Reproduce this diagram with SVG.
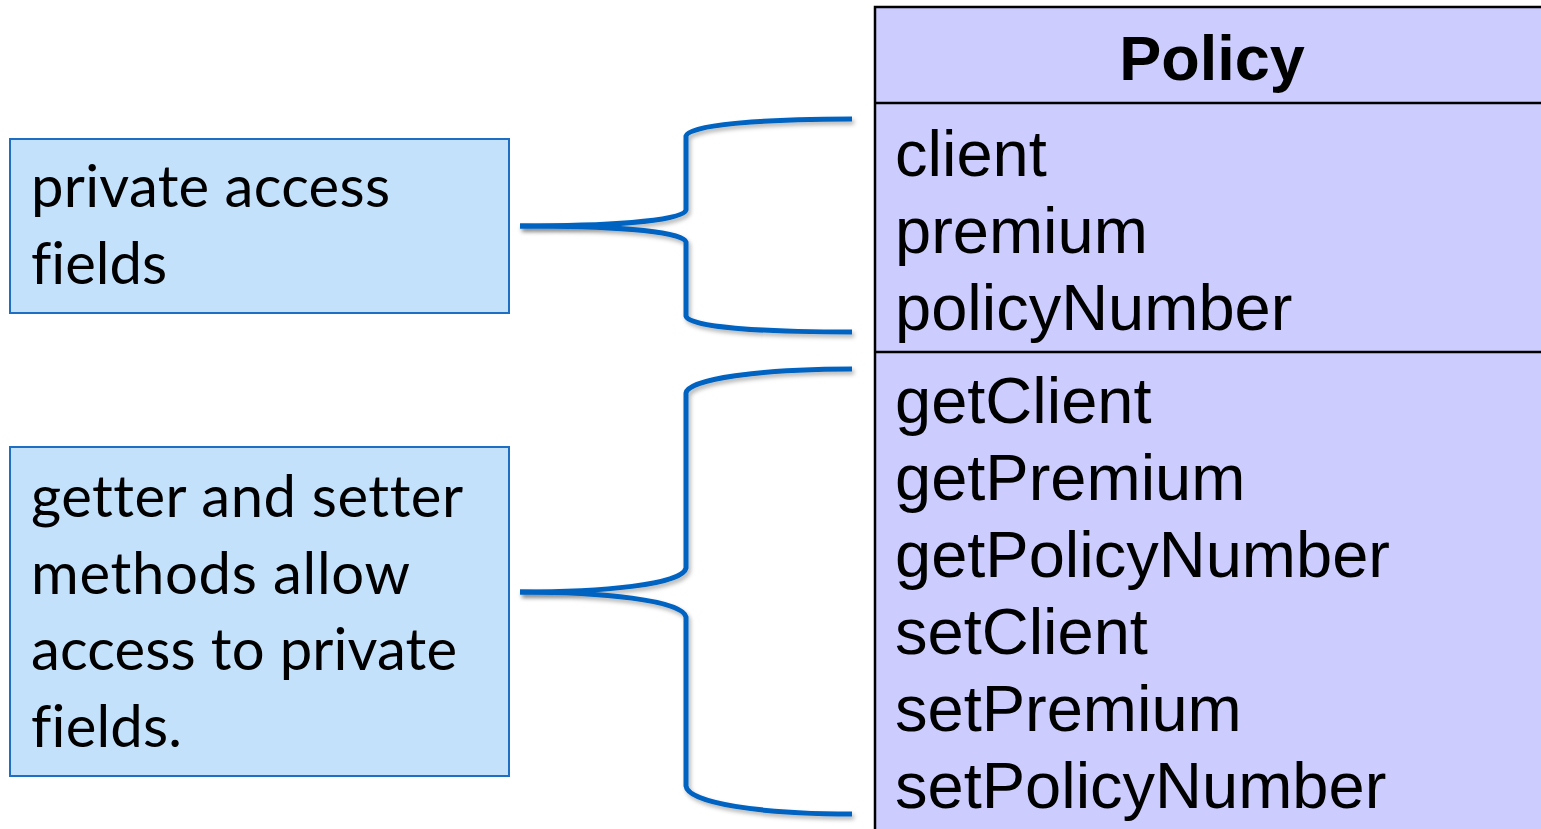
<svg xmlns="http://www.w3.org/2000/svg" width="1541" height="829" viewBox="0 0 1541 829">
  <defs>
    <filter id="shadow" x="-10%" y="-10%" width="120%" height="120%">
      <feDropShadow dx="2" dy="3" stdDeviation="2" flood-color="#000" flood-opacity="0.3"/>
    </filter>
  </defs>
  <style>
    .note rect { fill: #C3E1FB; stroke: #1E6FC4; stroke-width: 2; }
    .note text { font-family: Lato, "Open Sans", sans-serif; font-size: 58px; fill: #000; font-variant-ligatures: none; font-feature-settings: "liga" 0, "clig" 0; }
    .cls rect { fill: #CCCCFF; stroke: #000; stroke-width: 2.5; }
    .cls line { stroke: #000; stroke-width: 2.5; }
    .cls text { font-family: "Liberation Sans", Arial, sans-serif; font-size: 65px; fill: #000; }
    .cls .title { font-weight: bold; font-size: 63px; }
    .brace { fill: none; stroke: #0563C1; stroke-width: 5; stroke-linecap: butt; stroke-linejoin: round; filter: url(#shadow); }
  </style>

  <!-- note: fields -->
  <g id="note-fields" class="note">
    <rect x="10" y="139" width="499" height="174"/>
    <text x="31" y="207" textLength="359">private access</text>
    <text x="31" y="284" textLength="136">fields</text>
  </g>

  <!-- note: accessors -->
  <g id="note-methods" class="note">
    <rect x="10" y="447" width="499" height="329"/>
    <text x="31" y="517" textLength="432">getter and setter</text>
    <text x="31" y="594" textLength="379">methods allow</text>
    <text x="31" y="670" textLength="426">access to private</text>
    <text x="31" y="747" textLength="151">fields.</text>
  </g>

  <!-- class box -->
  <g id="class-policy" class="cls">
    <rect x="875" y="7" width="720" height="900"/>
    <line x1="875" y1="103" x2="1541" y2="103"/>
    <line x1="875" y1="352" x2="1541" y2="352"/>
    <text class="title" x="1212" y="80" text-anchor="middle">Policy</text>
    <text x="895" y="176">client</text>
    <text x="895" y="253">premium</text>
    <text x="895" y="330">policyNumber</text>
    <text x="895" y="423">getClient</text>
    <text x="895" y="500">getPremium</text>
    <text x="895" y="577">getPolicyNumber</text>
    <text x="895" y="654">setClient</text>
    <text x="895" y="731">setPremium</text>
    <text x="895" y="808">setPolicyNumber</text>
  </g>

  <!-- braces -->
  <g id="connectors">
    <path class="brace" d="M520,226 C600,226 683,222 686,210 L686,136 C688,125 760,119 852,119"/>
    <path class="brace" d="M520,226 C600,226 683,230 686,242 L686,316 C688,327 760,332 852,332"/>
    <path class="brace" d="M520,592 C600,592 683,585 686,568 L686,393 C688,379 760,369 852,369"/>
    <path class="brace" d="M520,592 C600,592 683,600 686,617 L686,786 C688,803 760,814 852,814"/>
  </g>
</svg>
